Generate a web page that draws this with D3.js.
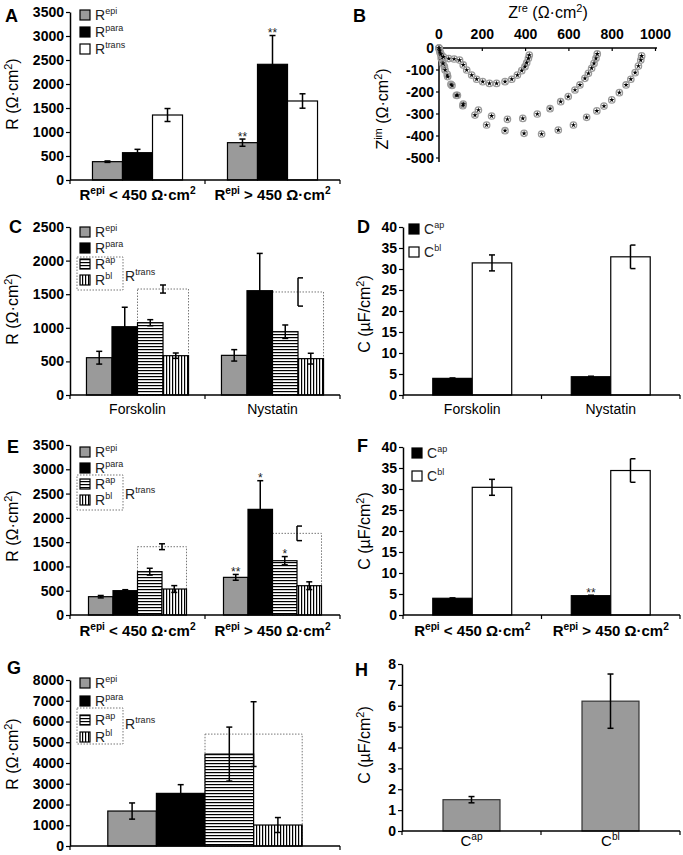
<!DOCTYPE html>
<html><head><meta charset="utf-8">
<script src="https://cdn.jsdelivr.net/npm/d3@7"></script>
<style>body{margin:0;background:#fff} svg{display:block} text{font-family:"Liberation Sans",Arial,sans-serif}</style>
</head><body>
<svg id="c" width="683" height="855"></svg>
<script>
// ---------------- DATA ----------------
const seriesA = ["Repi","Rpara","Rtrans"];
const seriesR4 = ["Repi","Rpara","Rap","Rbl"];
const seriesC = ["Cap","Cbl"];
const catsRepi = ["R^{epi} < 450 Ω·cm^{2}", "R^{epi} > 450 Ω·cm^{2}"];
const catsDrug = ["Forskolin","Nystatin"];
const catsG = [""];
const catsH = ["C^{ap}","C^{bl}"];

const ticksA = [0,500,1000,1500,2000,2500,3000,3500];
const ticksC = [0,500,1000,1500,2000,2500];
const ticksCap = [0,5,10,15,20,25,30,35,40];
const ticksG = [0,1000,2000,3000,4000,5000,6000,7000,8000];
const ticksH = [0,1,2,3,4,5,6,7,8];
const ticksBx = [0,200,400,600,800,1000];
const ticksBy = [0,-100,-200,-300,-400,-500];

const aValues = [[382,569,1354],[778,2410,1646]];
const aErrors = [[15,70,135],[75,600,150]];

const cValues = [[555,1016,1076,585],[590,1552,942,541]];
const cErrors = [[95,290,45,40],[85,555,100,80]];
const cTrans = [1577,1533];
const cTransErr = [60,210];

const dValues = [[3.96,31.45],[4.35,32.9]];
const dErrors = [[0.1,1.9],[0.12,2.8]];

const eValues = [[377,501,892,535],[775,2175,1118,603]];
const eErrors = [[25,20,70,70],[60,590,85,80]];
const eTrans = [1406,1681];
const eTransErr = [60,150];

const fValues = [[3.98,30.4],[4.6,34.4]];
const fErrors = [[0.1,1.9],[0.1,2.8]];

const gValues = [[1685,2536,4430,1011]];
const gErrors = [[390,420,1300,360]];
const gTrans = [5393];
const gTransErr = [1560];

const hValues = [[1.5],[6.22]];
const hErrors = [[0.15],[1.3]];

// Nyquist plot (Zre, Zim) in Ω·cm²
const nyq1 = [[0,0],[3,-12],[8,-28],[20,-40],[45,-48],[70,-50],[95,-55],[112,-77],[128,-100],[151,-123],[174,-142],[202,-153],[233,-161],[266,-161],[305,-153],[336,-142],[362,-123],[382,-103],[397,-85],[405,-67],[413,-47],[417,-32]];
const nyq2 = [[0,0],[5,-20],[10,-45],[18,-70],[28,-100],[40,-130],[60,-170],[85,-215],[112,-255],[182,-282],[243,-309],[316,-324],[387,-320],[454,-300],[513,-276],[562,-244],[597,-221],[628,-191],[651,-168],[674,-138],[690,-115],[705,-92],[716,-70],[725,-47],[731,-27]];
const nyq3 = [[0,0],[8,-25],[15,-55],[25,-85],[38,-120],[55,-165],[80,-215],[110,-262],[166,-305],[220,-350],[305,-376],[393,-388],[474,-391],[551,-373],[621,-350],[682,-315],[729,-286],[762,-264],[798,-236],[833,-203],[864,-168],[886,-142],[906,-112],[921,-82],[932,-55],[936,-36]];

// ---------------- DRAWING ----------------
const FONT = '"Liberation Sans", Arial, sans-serif';
const svg = d3.select("#c");
const defs = svg.append("defs");
const hp = defs.append("pattern").attr("id","hstripe").attr("patternUnits","userSpaceOnUse").attr("width",4).attr("height",3);
hp.append("rect").attr("width",4).attr("height",3).attr("fill","#fff");
hp.append("rect").attr("y",1).attr("width",4).attr("height",1.2).attr("fill","#000");
const vp = defs.append("pattern").attr("id","vstripe").attr("patternUnits","userSpaceOnUse").attr("width",3).attr("height",4);
vp.append("rect").attr("width",3).attr("height",4).attr("fill","#fff");
vp.append("rect").attr("x",1).attr("width",1.2).attr("height",4).attr("fill","#000");

const fillOf = {Repi:"#9a9a9a", Rpara:"#000", Rtrans:"#fff", Rap:"url(#hstripe)", Rbl:"url(#vstripe)", Cap:"#000", Cbl:"#fff", C:"#9a9a9a"};

function rich(t, str, size, supSize, shift) {
  let up = false;
  str.split(/(\^\{[^}]*\})/).filter(s => s).forEach(p => {
    if (p.startsWith("^{")) {
      t.append("tspan").text(p.slice(2,-1)).attr("font-size", supSize).attr("dy", -shift);
      up = true;
    } else {
      t.append("tspan").text(p).attr("font-size", size).attr("dy", up ? shift : 0);
      up = false;
    }
  });
  return t;
}

function letter(ch, x, y) {
  svg.append("text").attr("x",x).attr("y",y).attr("font-size",18).attr("font-weight","bold").text(ch);
}

function ylabel(str, x, y) {
  const t = svg.append("text").attr("transform",`translate(${x},${y}) rotate(-90)`).attr("text-anchor","middle");
  rich(t, str, 16, 11, 6);
}

function barPanel(p) {
  const g = svg.append("g");
  const y = d3.scaleLinear().domain([0,p.max]).range([p.y0,p.y1]);
  const xb = d3.scaleBand().domain(d3.range(p.cats.length)).range([p.x0,p.x1]);
  const bw0 = xb.bandwidth();
  const xi = d3.scaleBand().domain(d3.range(p.series.length)).range([bw0*(1-p.frac)/2, bw0*(1+p.frac)/2]);
  const bw = xi.bandwidth();
  const cx = (i,j) => xb(i) + xi(j) + bw/2;
  const errBars = [];
  if (p.trans) {
    p.trans.forEach((v,i) => {
      const xl = xb(i)+xi(2), xr = xb(i)+xi(3)+bw;
      g.append("rect").attr("x",xl).attr("y",y(v)).attr("width",xr-xl).attr("height",y(0)-y(v))
        .attr("fill","none").attr("stroke","#777").attr("stroke-width",1).attr("stroke-dasharray","1.5,1.5");
      errBars.push({x:(xl+xr)/2, v, e:p.transErr[i], br:(p.bracket||[]).includes("t"+i)});
    });
  }
  p.values.forEach((row,i) => row.forEach((v,j) => {
    const key = p.fillKeys ? p.fillKeys[i] : p.series[j];
    g.append("rect").attr("x",xb(i)+xi(j)).attr("y",y(v)).attr("width",bw).attr("height",y(0)-y(v))
      .attr("fill",fillOf[key]).attr("stroke",p.barStroke||"#000").attr("stroke-width",1.2);
    errBars.push({x:cx(i,j), v, e:p.errors[i][j], br:(p.bracket||[]).includes(i+"-"+j)});
  }));
  errBars.forEach(d => {
    const yt = y(d.v+d.e), yb = y(Math.max(0,d.v-d.e));
    g.append("line").attr("x1",d.x).attr("x2",d.x).attr("y1",yt).attr("y2",yb).attr("stroke","#000").attr("stroke-width",1.5);
    [yt,yb].forEach(yy => {
      g.append("line").attr("x1", d.br ? d.x : d.x-3).attr("x2", d.br ? d.x+5 : d.x+3)
        .attr("y1",yy).attr("y2",yy).attr("stroke","#000").attr("stroke-width",1.5);
    });
  });
  (p.stars||[]).forEach(s => {
    const v = p.values[s.g][s.s] + p.errors[s.g][s.s];
    g.append("text").attr("x",cx(s.g,s.s)).attr("y",y(v)+1.5).attr("text-anchor","middle")
      .attr("font-size",12).attr("fill","#222").text(s.t);
  });
  // y axis
  const ax = g.append("g").attr("transform",`translate(${p.x0},0)`)
    .call(d3.axisLeft(y).tickValues(p.ticks).tickSize(4).tickSizeOuter(0).tickPadding(2).tickFormat(d3.format("d")));
  ax.attr("font-family",FONT).attr("font-size",14).attr("font-weight","bold");
  ax.selectAll("text").attr("fill","#000");
  ax.selectAll("line").attr("stroke-width",1.2);
  ax.select(".domain").attr("stroke-width",1.5);
  // x axis
  g.append("line").attr("x1",p.x0).attr("x2",p.x1).attr("y1",p.y0).attr("y2",p.y0).attr("stroke","#000").attr("stroke-width",1.5);
  d3.range(p.cats.length).map(i => xb(i)).concat([p.x1]).forEach(b => {
    g.append("line").attr("x1",b).attr("x2",b).attr("y1",p.y0).attr("y2",p.y0+4).attr("stroke","#000").attr("stroke-width",1.2);
  });
  p.cats.forEach((c,i) => {
    const t = g.append("text").attr("x",xb(i)+bw0/2).attr("y",p.labelY).attr("text-anchor","middle")
      .attr("font-weight",p.labelBold?"bold":"normal");
    rich(t, c, p.labelSize, p.labelSize*0.68, p.labelSize*0.4);
  });
  // legend
  if (p.legend) {
    const L = p.legend;
    L.items.forEach((it,k) => {
      const yy = L.rows[k];
      g.append("rect").attr("x",L.x).attr("y",yy-5).attr("width",10).attr("height",10)
        .attr("fill",fillOf[it]).attr("stroke","#000").attr("stroke-width",1.2);
      const t = g.append("text").attr("x",L.x+15).attr("y",yy+5).attr("fill","#222");
      rich(t, it[0]+"^{"+it.slice(1)+"}", 14, 9, 6);
    });
    if (L.box) {
      g.append("rect").attr("x",L.box[0]).attr("y",L.box[1]).attr("width",L.box[2]-L.box[0]).attr("height",L.box[3]-L.box[1])
        .attr("fill","none").attr("stroke","#777").attr("stroke-width",1).attr("stroke-dasharray","1.5,1.5");
      const t = g.append("text").attr("x",L.tx).attr("y",L.ty).attr("fill","#222");
      rich(t, "R^{trans}", 14, 9, 6);
    }
  }
}

// Panel A
barPanel({x0:70,x1:340,y0:180,y1:12,max:3500,ticks:ticksA,cats:catsRepi,series:seriesA,values:aValues,errors:aErrors,
  frac:0.667,labelY:200,labelSize:15,labelBold:true,
  stars:[{g:1,s:0,t:"**"},{g:1,s:1,t:"**"}],
  legend:{x:80,rows:[15,32,49],items:seriesA}});
letter("A",5,22);
ylabel("R (Ω·cm^{2})",18,94);

// Panel C
barPanel({x0:70,x1:340,y0:395,y1:227,max:2500,ticks:ticksC,cats:catsDrug,series:seriesR4,values:cValues,errors:cErrors,
  trans:cTrans,transErr:cTransErr,bracket:["t1"],frac:0.756,labelY:414,labelSize:14,labelBold:false,
  legend:{x:80,rows:[232,248,264,280],items:seriesR4,box:[77,257,123,290],tx:125,ty:281}});
letter("C",9,233);
ylabel("R (Ω·cm^{2})",18,309);

// Panel D
barPanel({x0:403,x1:680,y0:395,y1:227,max:40,ticks:ticksCap,cats:catsDrug,series:seriesC,values:dValues,errors:dErrors,
  bracket:["1-1"],frac:0.57,labelY:414,labelSize:14,labelBold:false,
  legend:{x:409,rows:[229,252],items:seriesC}});
letter("D",357,233);
ylabel("C (µF/cm^{2})",370,314);

// Panel E
barPanel({x0:70,x1:340,y0:615,y1:445,max:3500,ticks:ticksA,cats:catsRepi,series:seriesR4,values:eValues,errors:eErrors,
  trans:eTrans,transErr:eTransErr,bracket:["t1"],frac:0.726,labelY:636,labelSize:15,labelBold:true,
  stars:[{g:1,s:0,t:"**"},{g:1,s:1,t:"*"},{g:1,s:2,t:"*"}],
  legend:{x:80,rows:[452,468,484,500],items:seriesR4,box:[77,475,123,510],tx:125,ty:499}});
letter("E",7,453);
ylabel("R (Ω·cm^{2})",18,526);

// Panel F
barPanel({x0:403,x1:680,y0:615,y1:447,max:40,ticks:ticksCap,cats:catsRepi,series:seriesC,values:fValues,errors:fErrors,
  bracket:["1-1"],frac:0.57,labelY:636,labelSize:15,labelBold:true,
  stars:[{g:1,s:0,t:"**"}],
  legend:{x:412,rows:[453,476],items:seriesC}});
letter("F",357,452);
ylabel("C (µF/cm^{2})",370,531);

// Panel G
barPanel({x0:70,x1:340,y0:846,y1:680,max:8000,ticks:ticksG,cats:catsG,series:seriesR4,values:gValues,errors:gErrors,
  trans:gTrans,transErr:gTransErr,frac:0.72,labelY:860,labelSize:14,
  legend:{x:80,rows:[683,701,720,737],items:seriesR4,box:[77,708,123,744],tx:125,ty:729}});
letter("G",7,674);
ylabel("R (Ω·cm^{2})",18,754);

// Panel H
barPanel({x0:402,x1:680,y0:831,y1:664,max:8,ticks:ticksH,cats:catsH,series:["C"],values:hValues,errors:hErrors,
  fillKeys:["C","C"],barStroke:"#333",frac:0.41,labelY:846,labelSize:15,labelBold:false});
letter("H",355,676);
ylabel("C (µF/cm^{2})",370,745);

// Panel B (Nyquist)
(function(){
  const g = svg.append("g");
  const zx = d3.scaleLinear().domain([0,1000]).range([439,655.5]);
  const zy = d3.scaleLinear().domain([0,-500]).range([48,158]);
  g.append("line").attr("x1",zx(0)).attr("x2",657).attr("y1",zy(0)).attr("y2",zy(0)).attr("stroke","#000").attr("stroke-width",1.5);
  g.append("line").attr("x1",zx(0)).attr("x2",zx(0)).attr("y1",zy(0)).attr("y2",162).attr("stroke","#000").attr("stroke-width",1.5);
  ticksBx.forEach(v => {
    g.append("line").attr("x1",zx(v)).attr("x2",zx(v)).attr("y1",zy(0)).attr("y2",zy(0)+3).attr("stroke","#000").attr("stroke-width",1.2);
    g.append("text").attr("x",zx(v)).attr("y",39).attr("text-anchor","middle").attr("font-size",14).attr("font-weight","bold").text(v);
  });
  ticksBy.forEach(v => {
    g.append("line").attr("x1",zx(0)-3).attr("x2",zx(0)).attr("y1",zy(v)).attr("y2",zy(v)).attr("stroke","#000").attr("stroke-width",1.2);
    g.append("text").attr("x",434).attr("y",zy(v)).attr("dy","0.36em").attr("text-anchor","end").attr("font-size",14).attr("font-weight","bold").text(v);
  });
  const star = d3.symbol().type(d3.symbolStar).size(9);
  [nyq3,nyq2,nyq1].forEach(ser => {
    ser.forEach(d => {
      g.append("circle").attr("cx",zx(d[0])).attr("cy",zy(d[1])).attr("r",3.2)
        .attr("fill","none").attr("stroke","#9a9a9a").attr("stroke-width",1.3);
    });
    ser.forEach(d => {
      g.append("path").attr("d",star).attr("transform",`translate(${zx(d[0])},${zy(d[1])})`).attr("fill","#000");
    });
  });
  const t = g.append("text").attr("x",548).attr("y",18).attr("text-anchor","middle");
  rich(t,"Z^{re} (Ω·cm^{2})",16,11,6);
  letter("B",353,22);
  ylabel("Z^{im} (Ω·cm^{2})",388,109);
})();
</script>
</body></html>
